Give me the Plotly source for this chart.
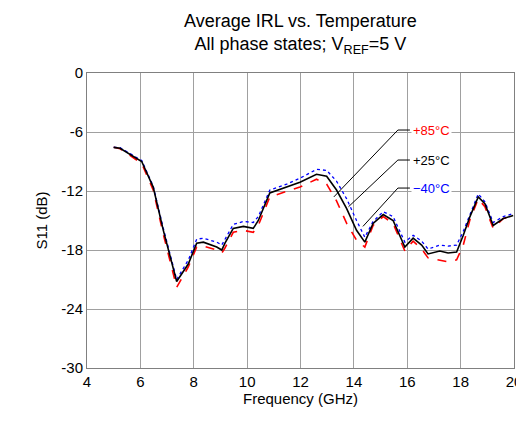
import plotly.graph_objects as go

freq = [5.0, 5.24, 6.05, 6.48, 6.86, 7.36, 7.8, 8.11, 8.36, 8.86, 9.05, 9.17, 9.48, 9.86, 10.23,
        10.42, 10.85, 11.48, 11.98, 12.6, 12.98, 13.35, 13.73, 14.1, 14.41, 14.72, 15.1, 15.47,
        15.91, 16.22, 16.54, 16.78, 17.22, 17.53, 17.85, 18.1, 18.35, 18.66, 18.91, 19.22, 19.6, 19.97]
s11_25 = [-7.56, -7.66, -9.0, -11.6, -16.0, -21.2, -19.4, -17.3, -17.2, -17.7, -18.0, -17.3, -15.8,
          -15.6, -15.8, -15.0, -12.2, -11.6, -11.1, -10.3, -10.5, -11.9, -13.8, -16.0, -17.2, -15.3,
          -14.4, -15.0, -17.7, -16.8, -17.5, -18.4, -18.1, -18.3, -18.2, -16.5, -14.6, -12.6, -13.3,
          -15.5, -14.8, -14.5]
s11_m40 = [-7.56, -7.6, -8.9, -11.5, -15.8, -21.0, -19.0, -16.9, -16.8, -17.2, -17.5, -16.9, -15.4,
           -15.1, -15.2, -14.6, -11.9, -11.3, -10.7, -9.8, -9.9, -11.0, -12.8, -15.0, -16.7, -15.1,
           -14.1, -14.6, -17.2, -16.5, -17.1, -17.9, -17.5, -17.6, -17.5, -16.1, -14.4, -12.3, -13.1,
           -15.2, -14.6, -14.3]
s11_85 = [-7.56, -7.7, -9.2, -11.9, -16.4, -21.8, -19.7, -17.7, -17.6, -18.0, -18.3, -17.8, -16.2,
          -16.0, -16.2, -15.5, -12.6, -12.0, -11.6, -10.8, -11.3, -13.0, -15.3, -17.0, -17.7, -15.5,
          -14.6, -15.3, -18.1, -17.1, -17.9, -18.8, -19.0, -19.2, -19.0, -17.5, -14.9, -12.8, -13.6,
          -15.8, -14.8, -14.6]
y_ticks = [0, -6, -12, -18, -24, -30]
y_tick_text = ['0', '-6', '-12', '-18', '-24', '-30']

fig = go.Figure()
fig.add_trace(go.Scatter(x=freq, y=s11_85, mode='lines', line=dict(color='#ff0000', width=1.6, dash='dash')))
fig.add_trace(go.Scatter(x=freq, y=s11_m40, mode='lines', line=dict(color='#0000ff', width=1.3, dash='dot')))
fig.add_trace(go.Scatter(x=freq, y=s11_25, mode='lines', line=dict(color='black', width=1.6)))

labels = [('+85°C', '#ff0000', -5.8, 13.25, -12.6),
          ('+25°C', 'black', -8.85, 13.8, -13.6),
          ('\u221240°C', '#0000ff', -11.7, 14.34, -15.6)]
for txt, col, ly, px, py in labels:
    fig.add_shape(type='line', x0=15.65, y0=ly, x1=16.1, y1=ly, line=dict(color='black', width=1))
    fig.add_shape(type='line', x0=15.65, y0=ly, x1=px, y1=py, line=dict(color='black', width=1))
    fig.add_annotation(x=16.15, y=ly, text=txt, showarrow=False, xanchor='left',
                       font=dict(color=col, size=13), bgcolor='white')

fig.add_annotation(text='Average IRL vs. Temperature<br>All phase states; V<sub>REF</sub>=5 V',
                   xref='paper', yref='paper', x=0.5, y=1.0, yshift=64, yanchor='top',
                   showarrow=False, font=dict(size=18))

fig.update_layout(
    width=524, height=432, showlegend=False,
    paper_bgcolor='white', plot_bgcolor='white',
    font=dict(family='Liberation Sans, Arial', size=15, color='black'),
    margin=dict(l=79, r=18, t=65, b=72, autoexpand=False),
    xaxis=dict(range=[4, 20], dtick=2, showgrid=True, gridcolor='#a0a0a0', gridwidth=1,
               showline=True, linecolor='#808080', mirror=True, ticks='', automargin=False,
               title=dict(text='Frequency (GHz)', standoff=4, font=dict(size=15))),
    yaxis=dict(range=[-30, 0], tickvals=y_ticks, ticktext=y_tick_text, showgrid=True,
               gridcolor='#a0a0a0', gridwidth=1, showline=True, linecolor='#808080', mirror=True,
               ticks='', zeroline=False, automargin=False,
               title=dict(text='S11 (dB)', standoff=10, font=dict(size=15))),
)
fig.write_html("out.html")
